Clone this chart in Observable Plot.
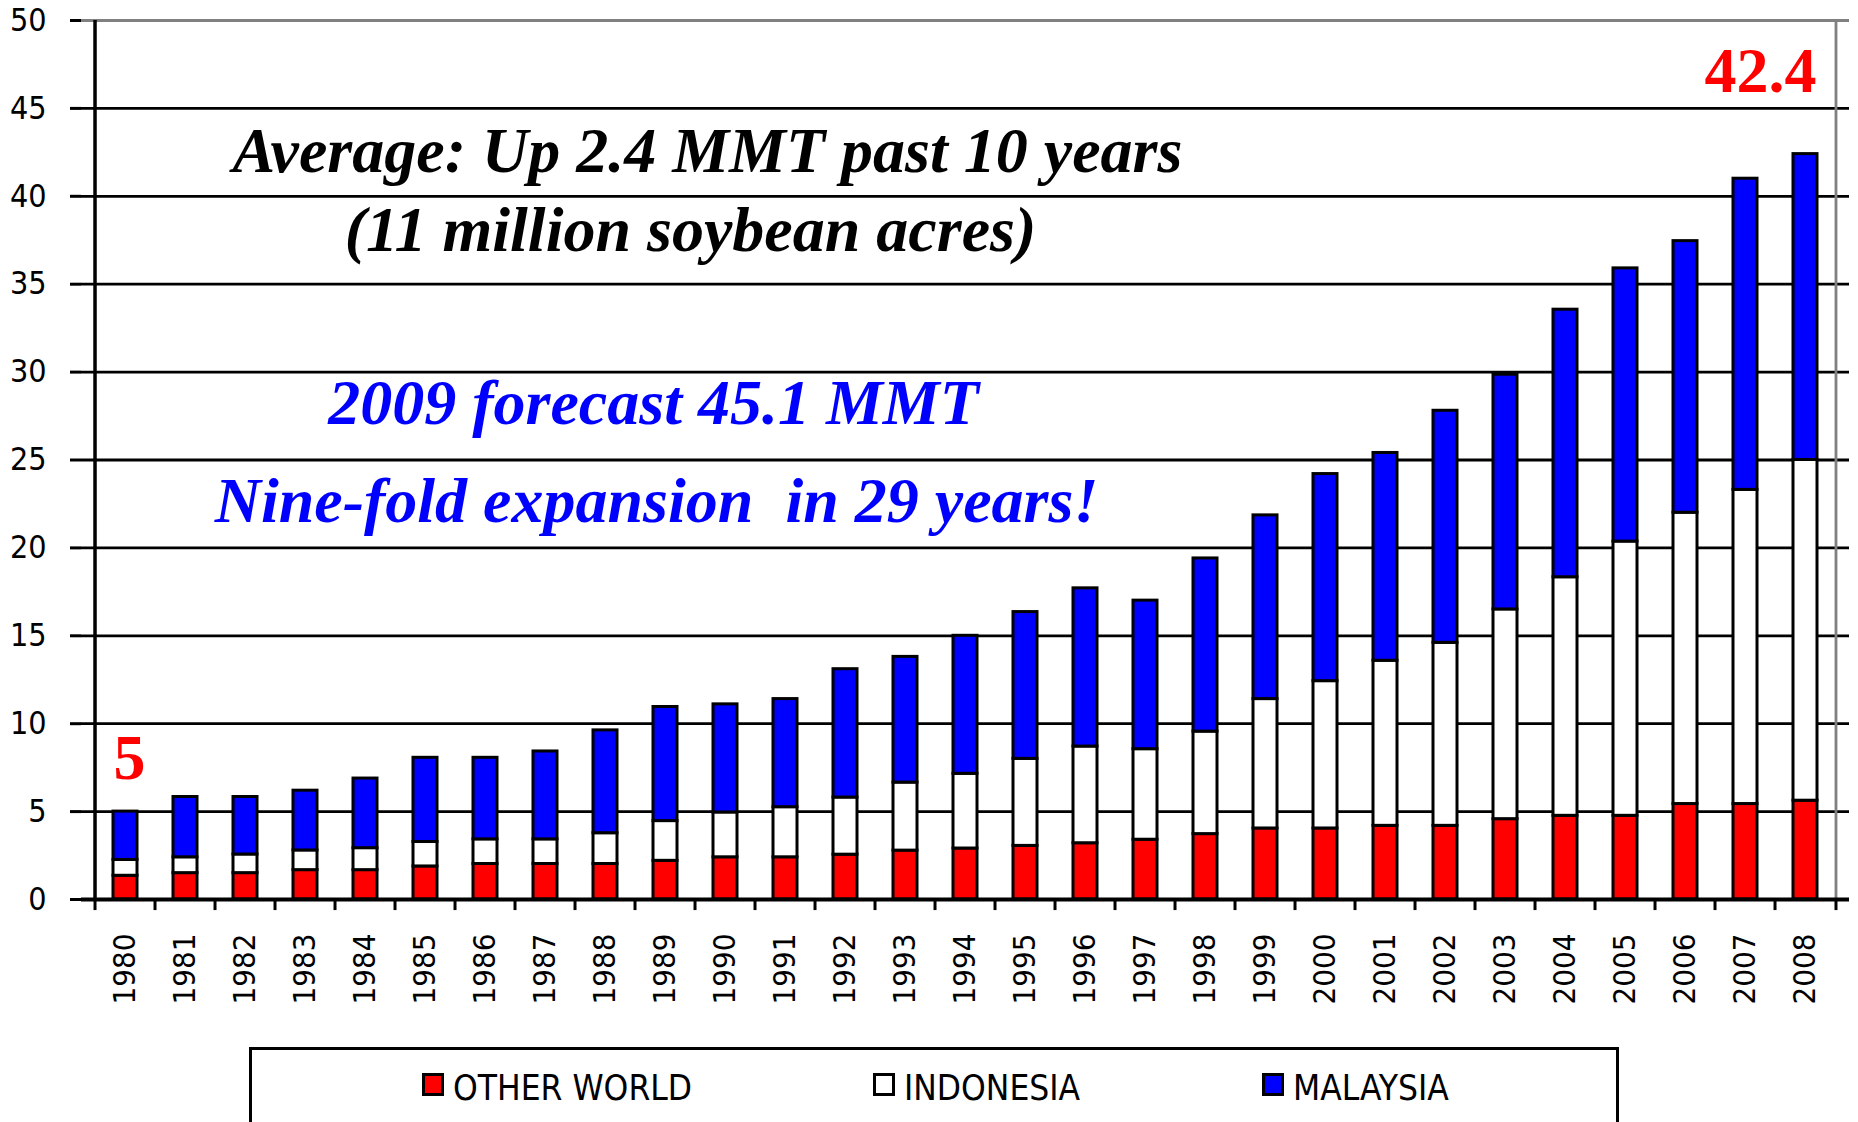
<!DOCTYPE html>
<html>
<head>
<meta charset="utf-8">
<script src="https://cdn.jsdelivr.net/npm/d3@7"></script>
<script src="https://cdn.jsdelivr.net/npm/@observablehq/plot@0.6"></script>
<style>
  html, body { margin: 0; padding: 0; background: #fff; overflow: hidden; width: 1858px; height: 1122px; }
  #chart { position: absolute; left: 0; top: 0; }
  #legend {
    position: absolute; left: 249px; top: 1047px; width: 1370px; height: 120px;
    border: 3px solid #000; box-sizing: border-box; background: #fff;
    font-family: "DejaVu Sans Condensed", "DejaVu Sans", sans-serif; font-size: 35px; color: #000;
  }
  .item { position: absolute; top: 18px; display: flex; align-items: flex-start; line-height: 41px; }
  .sw { width: 22px; height: 23px; border: 3px solid #000; margin-right: 9px; margin-top: 5px; box-sizing: border-box; }
</style>
</head>
<body>
<div id="chart"></div>
<div id="legend"></div>
<script>
const years = ["1980","1981","1982","1983","1984","1985","1986","1987","1988","1989","1990","1991","1992","1993","1994","1995","1996","1997","1998","1999","2000","2001","2002","2003","2004","2005","2006","2007","2008"];
const otherWorld = [1.35,1.5,1.5,1.67,1.67,1.88,2.02,2.02,2.02,2.2,2.4,2.4,2.55,2.78,2.9,3.05,3.2,3.4,3.72,4.04,4.04,4.19,4.19,4.57,4.76,4.76,5.43,5.43,5.62];
const indonesia = [0.9,0.9,1.06,1.12,1.25,1.39,1.4,1.4,1.75,2.26,2.55,2.85,3.25,3.87,4.25,4.95,5.5,5.15,5.83,7.36,8.38,9.39,10.41,11.93,13.57,15.6,16.57,17.87,19.38];
const malaysia = [2.75,3.43,3.27,3.4,3.96,4.79,4.64,5.0,5.85,6.49,6.15,6.15,7.3,7.15,7.85,8.35,9.0,8.45,9.85,10.45,11.78,11.82,13.2,13.35,15.22,15.54,15.45,17.7,17.4];
const seriesNames = ["OTHER WORLD", "INDONESIA", "MALAYSIA"];
const seriesColors = ["#ff0000", "#ffffff", "#0000ff"];
const yTicks = [0,5,10,15,20,25,30,35,40,45,50];

const annotations = [
  {text: "Average: Up 2.4 MMT past 10 years", x: "1990", y: 41.36, color: "#000000", dx: -18},
  {text: "(11 million soybean acres)", x: "1990", y: 36.9, color: "#000000", dx: -35},
  {text: "2009 forecast 45.1 MMT", x: "1990", y: 27.05, color: "#0000ff", dx: -72},
  {text: "Nine-fold expansion\u00a0 in 29 years!", x: "1990", y: 21.5, color: "#0000ff", dx: -69}
];
const valueLabels = [
  {text: "5", x: "1980", y: 6.83, anchor: "middle", dx: 4},
  {text: "42.4", x: "2008", y: 45.93, anchor: "end", dx: 11}
];

const rows = [];
years.forEach((yr, i) => {
  rows.push({year: yr, series: seriesNames[0], value: otherWorld[i]});
  rows.push({year: yr, series: seriesNames[1], value: indonesia[i]});
  rows.push({year: yr, series: seriesNames[2], value: malaysia[i]});
});

const W = 1858, H = 1040, mL = 81, mR = 9, mT = 20, mB = 141;
const step = (W - mL - mR) / years.length;
const serif = "'Liberation Serif', 'Times New Roman', serif";

const chart = Plot.plot({
  width: W, height: H,
  marginLeft: mL, marginRight: mR, marginTop: mT, marginBottom: mB,
  style: {fontFamily: "'DejaVu Sans Condensed', 'DejaVu Sans', sans-serif", background: "#fff", overflow: "visible"},
  x: {domain: years, paddingInner: 0.6, paddingOuter: 0.3, label: null},
  y: {domain: [0, 50], label: null},
  color: {domain: seriesNames, range: seriesColors},
  marks: [
    Plot.ruleY(yTicks.filter(t => t > 0 && t < 50), {stroke: "#000", strokeWidth: 2.8}),
    Plot.ruleY([50], {stroke: "#808080", strokeWidth: 2.8}),
    Plot.ruleX([years[years.length - 1]], {y1: 0, y2: 50, dx: step / 2, stroke: "#808080", strokeWidth: 2.8}),
    Plot.barY(rows, Plot.stackY({x: "year", y: "value", fill: "series", order: seriesNames, stroke: "#000", strokeWidth: 3})),
    Plot.axisY({ticks: yTicks, tickSize: 11, tickPadding: 24, fontSize: 32, stroke: "#000", strokeWidth: 3, color: "#000"}),
    Plot.ruleX(years, {y1: 0, y2: -0.63, dx: -step / 2, stroke: "#000", strokeWidth: 3}),
    Plot.ruleX([years[years.length - 1]], {y1: 0, y2: -0.63, dx: step / 2, stroke: "#000", strokeWidth: 3}),
    Plot.axisX({tickSize: 0, tickRotate: -90, tickPadding: 34, fontSize: 31, color: "#000"}),
    Plot.ruleY([0], {stroke: "#000", strokeWidth: 4}),
    Plot.ruleX([years[0]], {y1: 0, y2: 50, dx: -step / 2, stroke: "#000", strokeWidth: 3.5}),
    ...annotations.map(a => Plot.text([a], {x: "x", y: "y", text: "text", fill: a.color, dx: a.dx, lineAnchor: "bottom", textAnchor: "middle",
      fontFamily: serif, fontStyle: "italic", fontWeight: "bold", fontSize: 64})),
    ...valueLabels.map(v => Plot.text([v], {x: "x", y: "y", text: "text", dx: v.dx, textAnchor: v.anchor, lineAnchor: "bottom", fill: "#ff0000",
      fontFamily: serif, fontWeight: "bold", fontSize: 64}))
  ]
});
document.getElementById("chart").appendChild(chart);

const legend = document.getElementById("legend");
const legendLeft = [170, 621, 1010];
seriesNames.forEach((name, i) => {
  const item = document.createElement("div");
  item.className = "item";
  item.style.left = legendLeft[i] + "px";
  const sw = document.createElement("div");
  sw.className = "sw";
  sw.style.background = seriesColors[i];
  const label = document.createElement("span");
  label.textContent = name;
  item.appendChild(sw);
  item.appendChild(label);
  legend.appendChild(item);
});
</script>
</body>
</html>
